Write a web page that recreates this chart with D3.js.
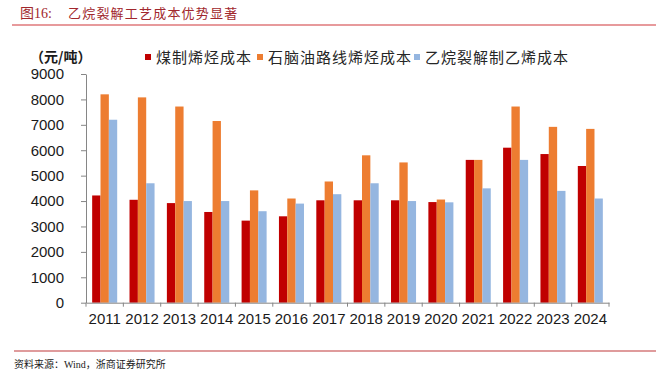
<!DOCTYPE html>
<html>
<head>
<meta charset="utf-8">
<script src="https://cdn.jsdelivr.net/npm/d3@7"></script>
<style>
  body { margin: 0; background: #fff; }
  svg { display: block; }
</style>
</head>
<body>
<svg id="drawing_region"></svg>
<script>
const years = ['2011','2012','2013','2014','2015','2016','2017','2018','2019','2020','2021','2022','2023','2024'];
const coalCost    = [4220, 4050, 3920, 3570, 3230, 3400, 4030, 4030, 4030, 3960, 5620, 6100, 5850, 5380];
const naphthaCost = [8200, 8080, 7720, 7150, 4420, 4100, 4770, 5800, 5520, 4060, 5620, 7720, 6920, 6840];
const ethaneCost  = [7200, 4700, 4000, 4000, 3600, 3900, 4270, 4700, 4000, 3950, 4500, 5620, 4400, 4100];
const seriesNames = ['煤制烯烃成本', '石脑油路线烯烃成本', '乙烷裂解制乙烯成本'];
const seriesColors = ['#c00000', '#ed7d31', '#95b6e0'];
const yTicks = [0, 1000, 2000, 3000, 4000, 5000, 6000, 7000, 8000, 9000];

const series = [coalCost, naphthaCost, ethaneCost];
const data = years.map((y, i) => ({ year: y, values: series.map(s => s[i]) }));

const width = 668, height = 375;
const svg = d3.select('#drawing_region')
    .attr('width', width)
    .attr('height', height);

const cjk = '"Noto Sans CJK SC", sans-serif';
const latin = '"Liberation Sans", Arial, sans-serif';

// title
svg.append('text')
    .attr('x', 20).attr('y', 18)
    .style('font-family', '"Liberation Serif", ' + cjk)
    .style('font-size', '14px')
    .attr('fill', '#a1272d')
    .text('图16:');
svg.append('text')
    .attr('x', 68).attr('y', 18)
    .style('font-family', cjk)
    .style('font-size', '13px')
    .style('letter-spacing', '1.2px')
    .attr('fill', '#a1272d')
    .text('乙烷裂解工艺成本优势显著');
svg.append('line')
    .attr('x1', 12).attr('x2', 656).attr('y1', 25).attr('y2', 25)
    .attr('stroke', '#d0363a').attr('stroke-width', 1.2);

// scales
const plotLeft = 86, plotRight = 609, plotTop = 74, plotBottom = 302.7;
const xscale = d3.scaleBand()
    .domain(years)
    .range([plotLeft, plotRight])
    .paddingInner(0.33)
    .paddingOuter(0.165);
const xsub = d3.scaleBand()
    .domain(d3.range(series.length))
    .range([0, xscale.bandwidth()]);
const yscale = d3.scaleLinear()
    .domain([0, 9000])
    .range([plotBottom, plotTop]);

// bars
const groups = svg.append('g').selectAll('g')
    .data(data)
    .join('g')
    .attr('transform', d => `translate(${xscale(d.year)},0)`);
groups.selectAll('rect')
    .data(d => d.values)
    .join('rect')
    .attr('x', (v, i) => xsub(i))
    .attr('width', xsub.bandwidth())
    .attr('y', v => yscale(v))
    .attr('height', v => yscale(0) - yscale(v))
    .attr('fill', (v, i) => seriesColors[i]);

// y axis
const yaxis = d3.axisLeft(yscale)
    .tickValues(yTicks)
    .tickFormat(d3.format('d'))
    .tickSize(5)
    .tickSizeOuter(0)
    .tickPadding(17);
const yaxis_group = svg.append('g')
    .attr('transform', `translate(${plotLeft},0)`)
    .call(yaxis);
yaxis_group.select('.domain').attr('stroke', '#868686');
yaxis_group.selectAll('.tick line').attr('stroke', '#868686');
yaxis_group.selectAll('text')
    .style('font-family', latin)
    .style('font-size', '15px')
    .attr('fill', '#1a1a1a');

// x axis: labels at centres, tick marks at category borders
const xaxis = d3.axisBottom(xscale)
    .tickSize(0)
    .tickSizeOuter(0)
    .tickPadding(11);
const xaxis_group = svg.append('g')
    .attr('transform', `translate(0,${plotBottom})`)
    .call(xaxis);
xaxis_group.select('.domain').attr('stroke', '#868686');
xaxis_group.selectAll('text')
    .style('font-family', latin)
    .style('font-size', '15px')
    .attr('fill', '#1a1a1a');
const borders = years.map(y => xscale(y) - xscale.step() * xscale.paddingOuter()).concat([plotRight]);
xaxis_group.selectAll('line.border')
    .data(borders)
    .join('line')
    .attr('class', 'border')
    .attr('x1', d => d).attr('x2', d => d)
    .attr('y1', 0).attr('y2', 4)
    .attr('stroke', '#868686');

// unit label
svg.append('text')
    .attr('x', 30).attr('y', 62)
    .style('font-family', cjk)
    .style('font-size', '14px')
    .style('font-weight', 'bold')
    .attr('fill', '#1a1a1a')
    .text('（元/吨）');

// legend
const legend = svg.append('g');
const legendStarts = [145, 257, 414];
seriesNames.forEach((name, i) => {
    legend.append('rect')
        .attr('x', legendStarts[i]).attr('y', 54)
        .attr('width', 6).attr('height', 6)
        .attr('fill', seriesColors[i]);
    legend.append('text')
        .attr('x', legendStarts[i] + 11).attr('y', 62.5)
        .style('font-family', cjk)
        .style('font-size', '15px')
        .style('letter-spacing', '1px')
        .attr('fill', '#262626')
        .text(name);
});

// footer
svg.append('line')
    .attr('x1', 14).attr('x2', 656).attr('y1', 351).attr('y2', 351)
    .attr('stroke', '#c0393b').attr('stroke-width', 1.2);
svg.append('text')
    .attr('x', 14).attr('y', 368)
    .style('font-family', '"Liberation Serif", ' + cjk)
    .style('font-size', '10px')
    .attr('fill', '#1a1a1a')
    .text('资料来源：Wind，浙商证券研究所');
</script>
</body>
</html>
